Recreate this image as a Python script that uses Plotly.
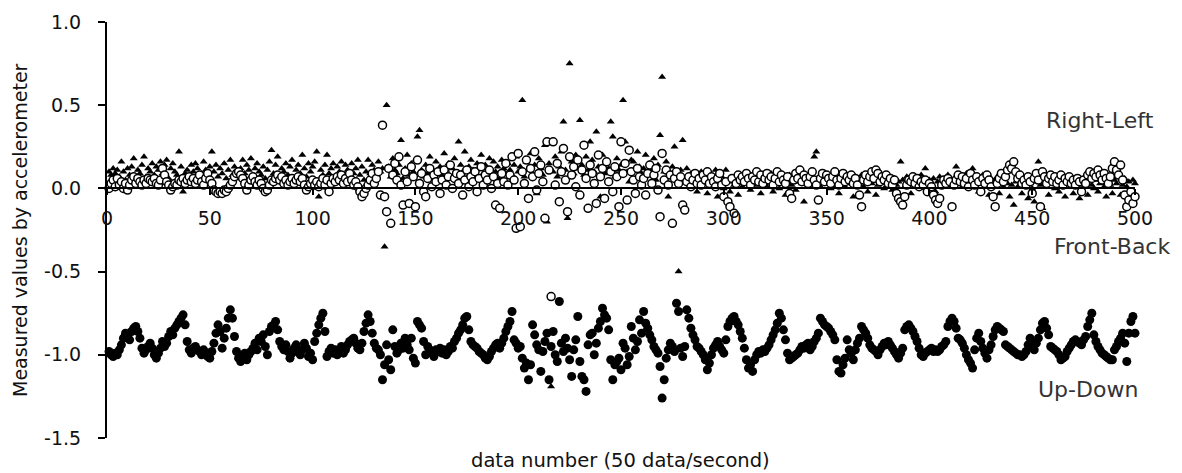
import plotly.graph_objects as go

# data index (50 data/second)
data_number = list(range(1, 501))

right_left = [
    0.10, 0.08, 0.12, 0.09, 0.11, 0.07, 0.16, 0.10, 0.05, 0.12,
    0.08, 0.13, 0.18, 0.06, 0.11, 0.09, 0.14, 0.19, 0.07, 0.12,
    0.10, 0.15, 0.08, 0.13, 0.11, 0.16, 0.09, 0.14, 0.17, 0.06,
    0.12, 0.15, 0.10, 0.08, 0.22, 0.13, -0.02, 0.09, 0.11, 0.07,
    0.14, 0.10, 0.15, 0.12, 0.06, 0.09, 0.16, 0.11, 0.08, 0.13,
    0.22, 0.10, 0.14, 0.07, 0.12, 0.09, 0.15, 0.06, 0.11, 0.17,
    0.08, 0.13, 0.10, 0.06, 0.12, 0.17, 0.09, 0.14, 0.11, 0.18,
    0.07, 0.12, 0.15, 0.10, 0.08, 0.13, 0.06, 0.11, 0.16, 0.23,
    0.09, 0.14, 0.19, 0.07, 0.12, 0.10, 0.15, 0.08, 0.13, 0.17,
    0.06, 0.11, 0.14, 0.09, 0.20, 0.12, 0.07, 0.15, 0.10, 0.13,
    0.16, 0.22, -0.05, 0.11, 0.08, 0.14, 0.20, 0.09, 0.12, 0.15,
    0.07, 0.13, 0.10, 0.16, 0.08, 0.14, 0.11, 0.06, 0.15, 0.09,
    0.12, 0.17, 0.08, 0.13, 0.05, 0.10, 0.17, 0.09, 0.14, 0.11,
    0.08, 0.16, 0.10, 0.12, -0.35, 0.50, 0.13, 0.07, 0.18, 0.11,
    0.09, 0.14, 0.29, 0.06, 0.12, 0.20, 0.08, 0.15, 0.10, 0.17,
    0.31, 0.35, 0.11, 0.07, 0.14, 0.09, 0.19, 0.12, 0.06, 0.16,
    0.10, 0.13, 0.08, 0.21, 0.11, 0.15, 0.07, 0.12, 0.18, 0.09,
    0.28, 0.14, 0.10, 0.22, 0.06, 0.13, 0.17, 0.11, 0.08, 0.15,
    0.12, 0.20, 0.09, 0.14, 0.07, 0.18, 0.11, 0.16, 0.10, 0.13,
    0.06, 0.17, 0.12, 0.09, 0.15, 0.11, 0.08, 0.14, 0.19, 0.10,
    0.13, 0.53, 0.07, 0.16, 0.11, 0.21, 0.09, 0.14, -0.03, 0.18,
    0.12, 0.08, 0.26, -0.20, 0.15, -1.19, 0.10, 0.19, 0.07, 0.13,
    0.22, 0.40, 0.11, -0.18, 0.75, 0.16, 0.09, 0.20, 0.12, 0.41,
    0.14, 0.08, 0.19, 0.11, 0.28, 0.17, 0.10, 0.34, 0.13, -0.05,
    0.20, 0.09, 0.15, 0.12, 0.40, 0.31, 0.07, 0.18, 0.11, 0.14,
    0.53, 0.28, 0.10, 0.04, 0.17, 0.16, 0.06, 0.22, 0.13, 0.09,
    0.12, 0.20, 0.08, 0.15, 0.11, 0.18, 0.05, 0.14, 0.32, 0.67,
    0.10, 0.16, -0.05, 0.09, 0.13, 0.25, 0.07, -0.50, 0.11, 0.29,
    0.06, 0.12, 0.04, 0.09, 0.02, 0.07, -0.02, 0.05, 0.10, 0.03,
    0.06, -0.03, 0.08, 0.01, 0.05, 0.11, -0.05, 0.03, 0.07, 0.00,
    0.11, 0.04, -0.02, 0.06, 0.02, 0.08, -0.04, 0.05, 0.01, 0.09,
    0.03, 0.07, -0.01, 0.05, 0.10, 0.02, 0.06, -0.03, 0.04, 0.08,
    0.01, 0.05, 0.09, -0.02, 0.04, 0.07, 0.00, 0.06, 0.03, -0.04,
    0.05, 0.08, 0.02, 0.06, -0.01, 0.04, 0.09, 0.03, -0.08, 0.05,
    0.02, 0.07, 0.04, 0.19, 0.22, 0.06, 0.01, 0.05, 0.08, 0.03,
    0.06, 0.00, 0.04, 0.07, 0.02, -0.03, 0.05, 0.09, 0.01, 0.04,
    0.06, 0.03, -0.05, 0.07, 0.02, 0.05, 0.08, 0.01, 0.04, -0.02,
    0.06, 0.03, 0.05, -0.04, 0.02, 0.07, 0.04, 0.00, 0.05, 0.08,
    0.03, -0.01, 0.06, 0.02, 0.04, 0.16, 0.05, 0.01, 0.07, 0.03,
    -0.03, 0.05, 0.02, 0.06, 0.04, 0.08, 0.01, 0.12, 0.03, 0.05,
    0.02, 0.06, -0.02, 0.04, 0.07, 0.01, 0.05, 0.03, 0.08, 0.02,
    0.04, 0.06, 0.13, 0.03, 0.07, 0.01, 0.05, 0.09, 0.02, 0.04,
    0.12, 0.06, 0.03, -0.02, 0.05, 0.08, 0.01, 0.04, -0.04, 0.06,
    0.02, 0.05, 0.07, -0.03, 0.04, 0.01, 0.06, 0.03, -0.05, 0.02,
    -0.10, 0.04, 0.01, 0.05, -0.03, 0.02, 0.06, -0.06, 0.03, 0.00,
    -0.08, 0.04, 0.16, 0.02, -0.12, 0.05, 0.01, -0.04, 0.03, 0.06,
    0.00, 0.04, -0.02, 0.05, 0.02, -0.05, 0.03, 0.06, 0.01, -0.03,
    0.04, 0.02, -0.06, 0.05, 0.01, 0.03, -0.04, 0.06, 0.02, 0.00,
    0.05, -0.02, 0.03, 0.06, 0.01, -0.05, 0.04, 0.02, -0.03, 0.05,
    0.03, 0.07, -0.04, 0.02, 0.06, 0.01, 0.04, -0.02, 0.05, 0.03,
]

front_back = [
    0.00, 0.03, 0.05, 0.01, 0.06, 0.02, 0.04, 0.00, 0.03, -0.01,
    0.02, 0.05, 0.07, 0.03, 0.06, 0.04, 0.02, 0.05, 0.03, 0.06,
    0.05, 0.04, 0.06, 0.03, 0.02, 0.05, 0.12, 0.08, 0.04, 0.02,
    -0.01, 0.01, 0.03, 0.02, 0.05, 0.04, 0.06, 0.03, 0.05, 0.07,
    0.04, 0.06, 0.03, 0.05, 0.08, 0.04, 0.02, 0.06, 0.09, 0.05,
    0.03, -0.01, -0.02, -0.03, -0.02, -0.03, -0.01, -0.02, 0.00, 0.02,
    0.04, 0.07, 0.09, 0.10, 0.08, 0.06, 0.03, -0.01, 0.02, 0.05,
    0.07, 0.04, 0.02, 0.05, 0.03, 0.00, -0.02, -0.01, 0.02, 0.05,
    0.04, 0.06, 0.08, 0.05, 0.07, 0.03, 0.05, 0.02, 0.04, 0.06,
    0.03, 0.05, 0.07, 0.04, 0.06, 0.02, -0.01, 0.01, 0.03, 0.05,
    0.02, 0.04, 0.01, 0.03, 0.06, 0.02, 0.05, -0.02, 0.03, 0.06,
    0.04, 0.07, 0.05, 0.08, 0.03, 0.06, 0.04, 0.09, 0.05, 0.02,
    0.04, 0.01, -0.02, -0.05, -0.03, 0.00, 0.02, 0.05, 0.09, 0.03,
    0.06, 0.10, -0.04, 0.38, -0.05, -0.14, 0.12, -0.21, 0.08, 0.15,
    0.05, 0.19, 0.02, -0.10, 0.10, 0.04, -0.09, 0.13, 0.07, -0.11,
    0.17, 0.03, 0.09, -0.02, -0.05, 0.06, 0.12, 0.01, 0.08, 0.04,
    0.10, -0.03, 0.05, 0.11, 0.02, 0.07, 0.14, 0.00, 0.06, 0.09,
    0.03, 0.08, -0.04, 0.05, 0.11, 0.01, 0.07, 0.04, 0.10, -0.02,
    0.06, 0.13, 0.02, 0.08, 0.05, 0.11, 0.00, 0.07, -0.10, 0.03,
    -0.12, 0.09, 0.04, 0.15, 0.02, 0.08, 0.19, 0.05, -0.24, 0.21,
    -0.23, 0.10, 0.03, 0.17, -0.06, 0.12, 0.07, 0.22, -0.01, 0.09,
    0.14, 0.04, -0.18, 0.28, 0.11, -0.65, 0.28, 0.02, 0.15, -0.08,
    0.10, 0.24, 0.05, -0.14, 0.19, 0.08, 0.13, 0.01, 0.17, -0.04,
    0.11, 0.26, 0.06, -0.12, 0.14, 0.09, 0.03, -0.09, 0.20, 0.07,
    0.12, -0.06, 0.16, 0.04, 0.10, -0.02, 0.13, 0.07, -0.11, 0.28,
    0.09, 0.15, -0.07, 0.23, 0.10, 0.05, -0.03, 0.12, 0.07, 0.02,
    0.06, -0.04, 0.09, 0.14, 0.03, 0.08, 0.12, -0.01, -0.17, 0.21,
    0.05, 0.11, 0.02, 0.08, -0.21, 0.06, 0.10, 0.03, 0.07, -0.10,
    -0.13, 0.04, 0.07, 0.01, 0.05, 0.09, 0.03, 0.06, 0.02, 0.08,
    0.05, 0.10, 0.03, 0.07, 0.04, 0.01, 0.06, 0.09, 0.02, -0.05,
    0.04, -0.08, -0.11, 0.06, -0.15, 0.03, 0.08, 0.05, 0.07, 0.04,
    0.09, 0.06, 0.02, 0.07, 0.05, 0.10, 0.04, 0.08, 0.03, 0.06,
    0.09, 0.05, 0.07, 0.02, 0.06, 0.10, 0.04, 0.08, 0.05, 0.03,
    0.07, -0.03, -0.06, 0.05, 0.09, 0.06, 0.11, 0.04, 0.08, 0.06,
    0.03, 0.07, 0.10, 0.05, 0.02, -0.07, 0.06, 0.09, 0.04, 0.08,
    0.06, 0.03, 0.07, 0.10, 0.05, 0.02, 0.06, 0.09, 0.04, 0.07,
    0.05, 0.08, 0.03, 0.06, 0.02, -0.04, -0.11, 0.05, 0.08, 0.04,
    0.07, 0.10, 0.06, 0.11, 0.09, 0.04, 0.07, 0.05, 0.08, 0.03,
    0.06, 0.02, 0.05, -0.03, -0.06, -0.08, -0.10, -0.05, 0.02, 0.05,
    0.04, 0.07, 0.03, 0.06, 0.01, 0.04, 0.02, 0.05, -0.02, 0.03,
    0.01, -0.04, -0.07, -0.09, -0.06, 0.02, 0.05, 0.03, 0.06, 0.04,
    -0.11, 0.02, 0.05, 0.08, 0.04, 0.07, 0.03, 0.06, 0.01, 0.09,
    0.05, 0.02, 0.07, 0.04, -0.02, 0.06, 0.03, 0.08, 0.05, 0.01,
    -0.05, -0.11, 0.03, 0.06, 0.09, 0.04, 0.07, 0.11, 0.14, 0.12,
    0.16, 0.10, 0.06, 0.08, 0.03, 0.05, 0.02, 0.07, 0.04, -0.03,
    0.06, 0.09, 0.05, -0.11, 0.10, 0.07, 0.03, 0.06, 0.08, 0.04,
    0.07, 0.03, 0.05, 0.08, 0.02, 0.06, 0.04, 0.07, 0.03, 0.05,
    0.02, 0.06, 0.04, -0.02, 0.05, 0.03, 0.08, 0.10, 0.06, 0.09,
    0.07, 0.11, 0.08, 0.05, 0.09, 0.06, 0.03, 0.07, 0.12, 0.16,
    0.11, 0.08, 0.14, 0.05, -0.04, -0.11, -0.07, -0.02, -0.09, -0.05,
]

up_down = [
    -0.98, -1.00, -1.01, -0.99, -1.00, -0.97, -0.94, -0.90, -0.87, -0.88,
    -0.91, -0.86, -0.84, -0.83, -0.86, -0.90, -0.96, -0.99, -0.97, -0.95,
    -0.93, -0.96, -1.00, -1.02, -0.99, -0.96, -0.92, -0.95, -0.93, -0.89,
    -0.86, -0.88, -0.84, -0.82, -0.80, -0.78, -0.76, -0.82, -0.92, -0.97,
    -0.99, -0.96, -0.95, -0.97, -0.98, -1.00, -0.97, -0.99, -1.01, -1.02,
    -0.98, -0.93, -0.87, -0.82, -0.86, -0.96, -0.90, -0.84, -0.78, -0.73,
    -0.78, -0.89, -0.98, -1.02, -1.04, -1.01, -0.99, -1.03, -1.00, -0.98,
    -0.96, -0.93, -0.97, -0.90, -0.92, -0.88, -0.95, -1.00, -0.86, -0.83,
    -0.82, -0.80, -0.85, -0.92, -0.95, -0.97, -0.94, -0.98, -1.02, -0.99,
    -0.96, -0.94, -0.98, -1.00, -0.97, -0.93, -0.96, -1.01, -0.99, -1.03,
    -0.92, -0.87, -0.82, -0.78, -0.75, -0.86, -1.01, -0.98, -0.96, -0.99,
    -0.97, -1.00, -0.98, -0.95, -0.99, -0.97, -0.94, -0.92, -0.91, -0.90,
    -0.93, -0.96, -0.97, -0.93, -0.86, -0.81, -0.76, -0.80, -0.87, -0.93,
    -0.96, -0.97, -1.00, -1.15, -1.06, -0.94, -1.03, -1.09, -0.85, -0.95,
    -0.99, -0.97, -0.93, -0.96, -0.90, -0.94, -0.97, -0.90, -1.02, -1.05,
    -0.80, -0.82, -0.84, -0.92, -1.00, -0.95, -0.97, -0.99, -1.01, -0.97,
    -0.98, -0.96, -0.99, -0.97, -1.00, -0.98, -0.95, -0.96, -0.92, -0.90,
    -0.87, -0.85, -0.82, -0.78, -0.77, -0.85, -0.92, -0.94, -0.95, -0.96,
    -0.98, -0.99, -1.00, -1.02, -1.03, -1.01, -0.98, -0.96, -0.94, -0.93,
    -0.96, -0.93, -0.90, -0.86, -0.83, -0.80, -0.74, -0.91, -0.93, -0.96,
    -0.95, -1.02, -1.08, -1.05, -1.15, -1.06, -0.82, -0.88, -0.94, -0.97,
    -1.10, -0.98, -0.92, -0.87, -1.15, -0.95, -0.86, -1.00, -1.04, -0.68,
    -0.93, -0.98, -0.90, -0.96, -1.03, -1.13, -0.97, -0.91, -0.77, -1.04,
    -1.13, -1.15, -1.22, -0.94, -0.88, -0.87, -1.00, -0.93, -0.84, -0.80,
    -0.72, -0.76, -0.78, -0.85, -1.03, -1.15, -1.06, -1.04, -1.02, -1.09,
    -0.93, -0.96, -1.06, -1.01, -0.83, -0.90, -0.97, -0.92, -0.79, -0.87,
    -0.74, -0.81, -0.84, -0.88, -0.91, -0.95, -0.97, -0.99, -1.07, -1.26,
    -1.15, -1.02, -0.97, -0.93, -0.95, -0.98, -0.69, -0.74, -0.96, -1.01,
    -0.95, -0.73, -0.78, -0.84, -0.88, -0.91, -0.95, -0.96, -0.98, -1.00,
    -1.03, -1.09, -1.05, -1.00, -0.96, -0.94, -0.92, -0.95, -0.97, -0.99,
    -0.91, -0.83, -0.80, -0.78, -0.77, -0.80, -0.82, -0.86, -0.90, -0.96,
    -1.03, -1.08, -1.06, -1.10, -1.03, -1.00, -0.98, -0.99, -0.97, -0.98,
    -0.96, -0.94, -0.91, -0.88, -0.85, -0.81, -0.75, -0.78, -0.85, -0.91,
    -0.99, -1.03, -1.02, -1.01, -1.00, -0.99, -0.97, -0.95, -0.96, -0.94,
    -0.93, -0.97, -0.95, -0.92, -0.90, -0.87, -0.78, -0.80, -0.82, -0.83,
    -0.84, -0.86, -0.88, -0.91, -1.03, -1.10, -1.11, -1.06, -1.02, -0.91,
    -0.97, -0.99, -1.03, -0.97, -0.93, -0.90, -0.83, -0.85, -0.87, -0.90,
    -0.94, -0.96, -0.97, -0.98, -1.00, -0.97, -0.95, -0.93, -0.94, -0.92,
    -0.94, -0.96, -0.98, -1.00, -1.02, -0.99, -0.96, -0.85, -0.83, -0.82,
    -0.84, -0.86, -0.89, -0.92, -0.96, -1.00, -1.01, -0.99, -0.98, -0.97,
    -0.96, -0.98, -0.97, -0.98, -0.97, -0.95, -0.94, -0.92, -0.83, -0.80,
    -0.78, -0.80, -0.84, -0.90, -0.91, -0.93, -0.96, -1.00, -1.03, -1.05,
    -1.08, -0.97, -0.90, -0.87, -0.92, -0.96, -0.99, -1.02, -0.97, -0.94,
    -0.89, -0.85, -0.83, -0.84, -0.85, -0.86, -0.94, -0.95, -0.96, -0.97,
    -0.98, -0.99, -1.00, -1.00, -1.01, -1.00, -0.98, -0.94, -0.90, -0.95,
    -0.97, -0.93, -0.90, -0.85, -0.81, -0.80, -0.84, -0.88, -0.95, -0.96,
    -0.97, -0.98, -1.00, -1.03, -1.02, -1.01, -0.98, -0.96, -0.94, -0.92,
    -0.91, -0.92, -0.93, -0.94, -0.91, -0.89, -0.83, -0.79, -0.75, -0.88,
    -0.92, -0.95, -0.97, -0.99, -1.00, -1.01, -1.02, -1.03, -1.03, -0.97,
    -0.95, -0.92, -0.90, -0.87, -0.93, -1.04, -0.87, -0.80, -0.77, -0.87,
]

y_ticks = [-1.5, -1.0, -0.5, 0.0, 0.5, 1.0]
x_ticks = [0, 50, 100, 150, 200, 250, 300, 350, 400, 450, 500]

FONT = "DejaVu Sans"
OFF = 8  # default page body margin of the html page
W, H = 1182 - OFF, 473 - OFF
# plot area in screen pixels: x 107..1135, y 22..438
L, R, T, B = 107 - OFF, 1182 - 1135, 22 - OFF, 473 - 438
pw = W - L - R
ph = H - T - B


def px_x(p):
    return (p - OFF - L) / pw


def px_y(p):
    return (H - B - (p - OFF)) / ph


fig = go.Figure()
fig.add_trace(go.Scatter(
    x=data_number, y=right_left, mode="markers", name="Right-Left",
    marker=dict(symbol="triangle-up", size=7, color="black", line=dict(width=0)),
    cliponaxis=False,
))
fig.add_trace(go.Scatter(
    x=data_number, y=front_back, mode="markers", name="Front-Back",
    marker=dict(symbol="circle", size=8, color="white", line=dict(width=1.5, color="black")),
    cliponaxis=False,
))
fig.add_trace(go.Scatter(
    x=data_number, y=up_down, mode="markers", name="Up-Down",
    marker=dict(symbol="circle", size=9, color="black", line=dict(width=0)),
    cliponaxis=False,
))

annotations = [
    dict(text="Measured values by accelerometer", x=px_x(20), y=px_y(230), textangle=-90,
         font=dict(size=19, color="#111", family=FONT)),
    dict(text="data number (50 data/second)", x=px_x(620), y=px_y(460),
         font=dict(size=19.5, color="#111", family=FONT)),
    dict(text="Right-Left", x=px_x(1100), y=px_y(120),
         font=dict(size=22, color="#333", family=FONT)),
    dict(text="Front-Back", x=px_x(1112), y=px_y(246),
         font=dict(size=22, color="#333", family=FONT)),
    dict(text="Up-Down", x=px_x(1088), y=px_y(389),
         font=dict(size=22, color="#333", family=FONT)),
]
for a in annotations:
    a.update(xref="paper", yref="paper", showarrow=False, xanchor="center", yanchor="middle")

fig.update_layout(
    width=W, height=H,
    margin=dict(l=L, r=R, t=T, b=B, autoexpand=False),
    paper_bgcolor="white", plot_bgcolor="white",
    showlegend=False,
    font=dict(family=FONT, size=19, color="#111"),
    annotations=annotations,
    xaxis=dict(
        range=[0, 500], tickvals=x_ticks, ticktext=[str(v) for v in x_ticks],
        anchor="free", position=1.5 / 2.5,
        showline=True, linecolor="black", linewidth=2,
        ticks="outside", ticklen=6, tickwidth=1.5, tickcolor="black",
        ticklabelstandoff=7,
        showgrid=False, zeroline=False,
        tickfont=dict(size=19, color="#111", family=FONT),
    ),
    yaxis=dict(
        range=[-1.5, 1.0], tickvals=y_ticks, ticktext=[f"{v:.1f}" for v in y_ticks],
        showline=True, linecolor="black", linewidth=2,
        ticks="outside", ticklen=7, tickwidth=1.5, tickcolor="black",
        ticklabelstandoff=13,
        showgrid=False, zeroline=False,
        tickfont=dict(size=19, color="#111", family=FONT),
    ),
)

fig.write_html("out.html")
